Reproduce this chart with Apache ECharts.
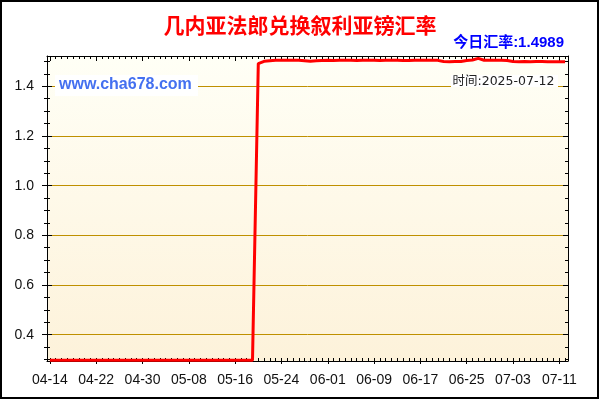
<!DOCTYPE html>
<html>
<head>
<meta charset="utf-8">
<script src="https://cdn.jsdelivr.net/npm/echarts@6/dist/echarts.min.js"></script>
<style>
html,body{margin:0;padding:0;background:#fff;}
#c{width:600px;height:400px;}
</style>
</head>
<body>
<div id="c"></div>
<script>
var titleText = '几内亚法郎兑换叙利亚镑汇率';
var todayText = '今日汇率:1.4989';
var timeText = '时间:2025-07-12';
var siteText = 'www.cha678.com';

var dates = [
'04-14','04-15','04-16','04-17','04-18','04-19','04-20','04-21','04-22','04-23','04-24','04-25','04-26','04-27','04-28','04-29','04-30',
'05-01','05-02','05-03','05-04','05-05','05-06','05-07','05-08','05-09','05-10','05-11','05-12','05-13','05-14','05-15','05-16','05-17','05-18','05-19','05-20','05-21','05-22','05-23','05-24','05-25','05-26','05-27','05-28','05-29','05-30','05-31',
'06-01','06-02','06-03','06-04','06-05','06-06','06-07','06-08','06-09','06-10','06-11','06-12','06-13','06-14','06-15','06-16','06-17','06-18','06-19','06-20','06-21','06-22','06-23','06-24','06-25','06-26','06-27','06-28','06-29','06-30',
'07-01','07-02','07-03','07-04','07-05','07-06','07-07','07-08','07-09','07-10','07-11','07-12'
];

var rates = [
0.2975,0.2975,0.2975,0.2975,0.2975,0.2975,0.2975,0.2975,0.2975,0.2975,
0.2975,0.2975,0.2975,0.2975,0.2975,0.2975,0.2975,0.2975,0.2975,0.2975,
0.2975,0.2975,0.2975,0.2975,0.2975,0.2975,0.2975,0.2975,0.2975,0.2975,
0.2975,0.2975,0.2975,0.2975,0.2975,0.2975,
1.4915,1.5005,1.5030,1.5045,1.5048,1.5050,1.5048,1.5045,1.5030,1.5005,
1.5030,1.5040,1.5045,1.5042,1.5045,1.5048,1.5045,1.5040,1.5045,1.5048,
1.5045,1.5042,1.5045,1.5048,1.5045,1.5040,1.5038,1.5045,1.5050,1.5052,
1.5050,1.5045,1.4995,1.4992,1.4995,1.4998,1.5035,1.5060,1.5125,1.5050,
1.5047,1.5045,1.5048,1.5040,1.4995,1.4993,1.4995,1.4992,1.4994,1.4996,
1.4993,1.4991,1.4992,1.4989
];

var yMajorTicks = [0.4, 0.6, 0.8, 1.0, 1.2, 1.4];
var yMinorTicks = [0.30,0.35,0.45,0.50,0.55,0.65,0.70,0.75,0.85,0.90,0.95,1.05,1.10,1.15,1.25,1.30,1.35,1.45,1.50];
var yMin = 0.294, yMax = 1.522;

var chart = echarts.init(document.getElementById('c'), null, {renderer: 'canvas'});
var black = '#000';
function yAx(extra) {
  var base = {
    type: 'value', min: yMin, max: yMax, position: 'left',
    axisLine: {show: false}, axisLabel: {show: false}, splitLine: {show: false},
    axisTick: {show: false}
  };
  for (var k in extra) base[k] = extra[k];
  return base;
}
function xAx(extra) {
  var base = {
    type: 'category', data: dates, boundaryGap: true, position: 'bottom',
    axisLine: {show: false}, axisLabel: {show: false}, splitLine: {show: false},
    axisTick: {show: false}
  };
  for (var k in extra) base[k] = extra[k];
  return base;
}

var option = {
  animation: false,
  backgroundColor: '#fff',
  grid: {
    left: 47, right: 32, top: 56, bottom: 39,
    show: true, borderWidth: 0,
    backgroundColor: new echarts.graphic.LinearGradient(0, 0, 0, 1, [
      {offset: 0, color: '#FFFFF6'},
      {offset: 1, color: '#FDF2DA'}
    ])
  },
  xAxis: [
    xAx({
      axisLine: {show: true, lineStyle: {color: black, width: 1}},
      axisTick: {show: true, alignWithLabel: true, interval: 7, length: 3, inside: false, lineStyle: {color: black}},
      axisLabel: {show: true, interval: 7, fontSize: 14, color: '#111', margin: 12, fontFamily: 'Liberation Sans, Arial, sans-serif'}
    }),
    xAx({
      axisTick: {show: true, alignWithLabel: true, interval: 0, length: 3, inside: true, lineStyle: {color: black}}
    }),
    xAx({
      position: 'top',
      axisLine: {show: true, lineStyle: {color: black, width: 1}},
      axisTick: {show: true, alignWithLabel: true, interval: 0, length: 3, inside: true, lineStyle: {color: black}}
    }),
    xAx({
      position: 'top',
      axisTick: {show: true, alignWithLabel: true, interval: 7, length: 5, inside: true, lineStyle: {color: black}}
    })
  ],
  yAxis: [
    yAx({
      splitNumber: 5,
      axisLine: {show: true, lineStyle: {color: black, width: 1}},
      axisTick: {show: true, customValues: yMajorTicks, length: 5, inside: false, lineStyle: {color: black}},
      axisLabel: {show: true, customValues: yMajorTicks, fontSize: 14, color: '#111', margin: 13,
        fontFamily: 'Liberation Sans, Arial, sans-serif',
        formatter: function (v) { return v.toFixed(1); }},
      splitLine: {show: true, showMinLine: true, showMaxLine: true, lineStyle: {color: '#BF9000', width: 1}}
    }),
    yAx({
      axisTick: {show: true, customValues: yMajorTicks, length: 5, inside: true, lineStyle: {color: black}}
    }),
    yAx({
      axisTick: {show: true, customValues: yMinorTicks, length: 3, inside: false, lineStyle: {color: black}}
    }),
    yAx({
      axisTick: {show: true, customValues: yMinorTicks, length: 3, inside: true, lineStyle: {color: black}}
    }),
    yAx({
      position: 'right',
      axisLine: {show: true, lineStyle: {color: black, width: 1}},
      axisTick: {show: true, customValues: yMajorTicks, length: 5, inside: true, lineStyle: {color: black}}
    }),
    yAx({
      position: 'right',
      axisTick: {show: true, customValues: yMinorTicks, length: 3, inside: true, lineStyle: {color: black}}
    })
  ],
  series: [{
    type: 'line',
    data: rates,
    xAxisIndex: 0, yAxisIndex: 0,
    showSymbol: false, symbol: 'none',
    lineStyle: {color: '#FF0000', width: 3},
    z: 5
  }],
  graphic: [
    {type: 'rect', z: 100, shape: {x: 1, y: 1, width: 597, height: 397}, style: {fill: 'none', stroke: '#000', lineWidth: 2}},
    {type: 'text', z: 100, x: 300, y: 25, style: {text: titleText, textAlign: 'center', textVerticalAlign: 'middle',
      fill: '#FF0000', fontSize: 21, fontWeight: 'bold', fontFamily: '"Noto Sans CJK SC", sans-serif'}},
    {type: 'text', z: 100, x: 564, y: 43, style: {text: todayText, textAlign: 'right', textVerticalAlign: 'middle',
      fill: '#0000FF', fontSize: 15, fontWeight: 'bold', fontFamily: '"Liberation Sans", "Noto Sans CJK SC", sans-serif'}},
    {type: 'rect', z: 90, shape: {x: 55, y: 75, width: 143, height: 21}, style: {fill: '#FFFFFF'}},
    {type: 'text', z: 100, x: 59, y: 85, style: {text: siteText, textAlign: 'left', textVerticalAlign: 'middle',
      fill: '#4470F0', fontSize: 16, fontWeight: 'bold', fontFamily: '"Liberation Sans", Arial, sans-serif'}},
    {type: 'rect', z: 90, shape: {x: 451, y: 75, width: 107, height: 12}, style: {fill: '#FFFFFF'}},
    {type: 'text', z: 100, x: 452.5, y: 81.5, style: {text: timeText, textAlign: 'left', textVerticalAlign: 'middle',
      fill: '#222', fontSize: 12.5, fontFamily: '"DejaVu Sans", "Noto Sans CJK SC", sans-serif'}}
  ]
};
chart.setOption(option);
</script>
</body>
</html>
